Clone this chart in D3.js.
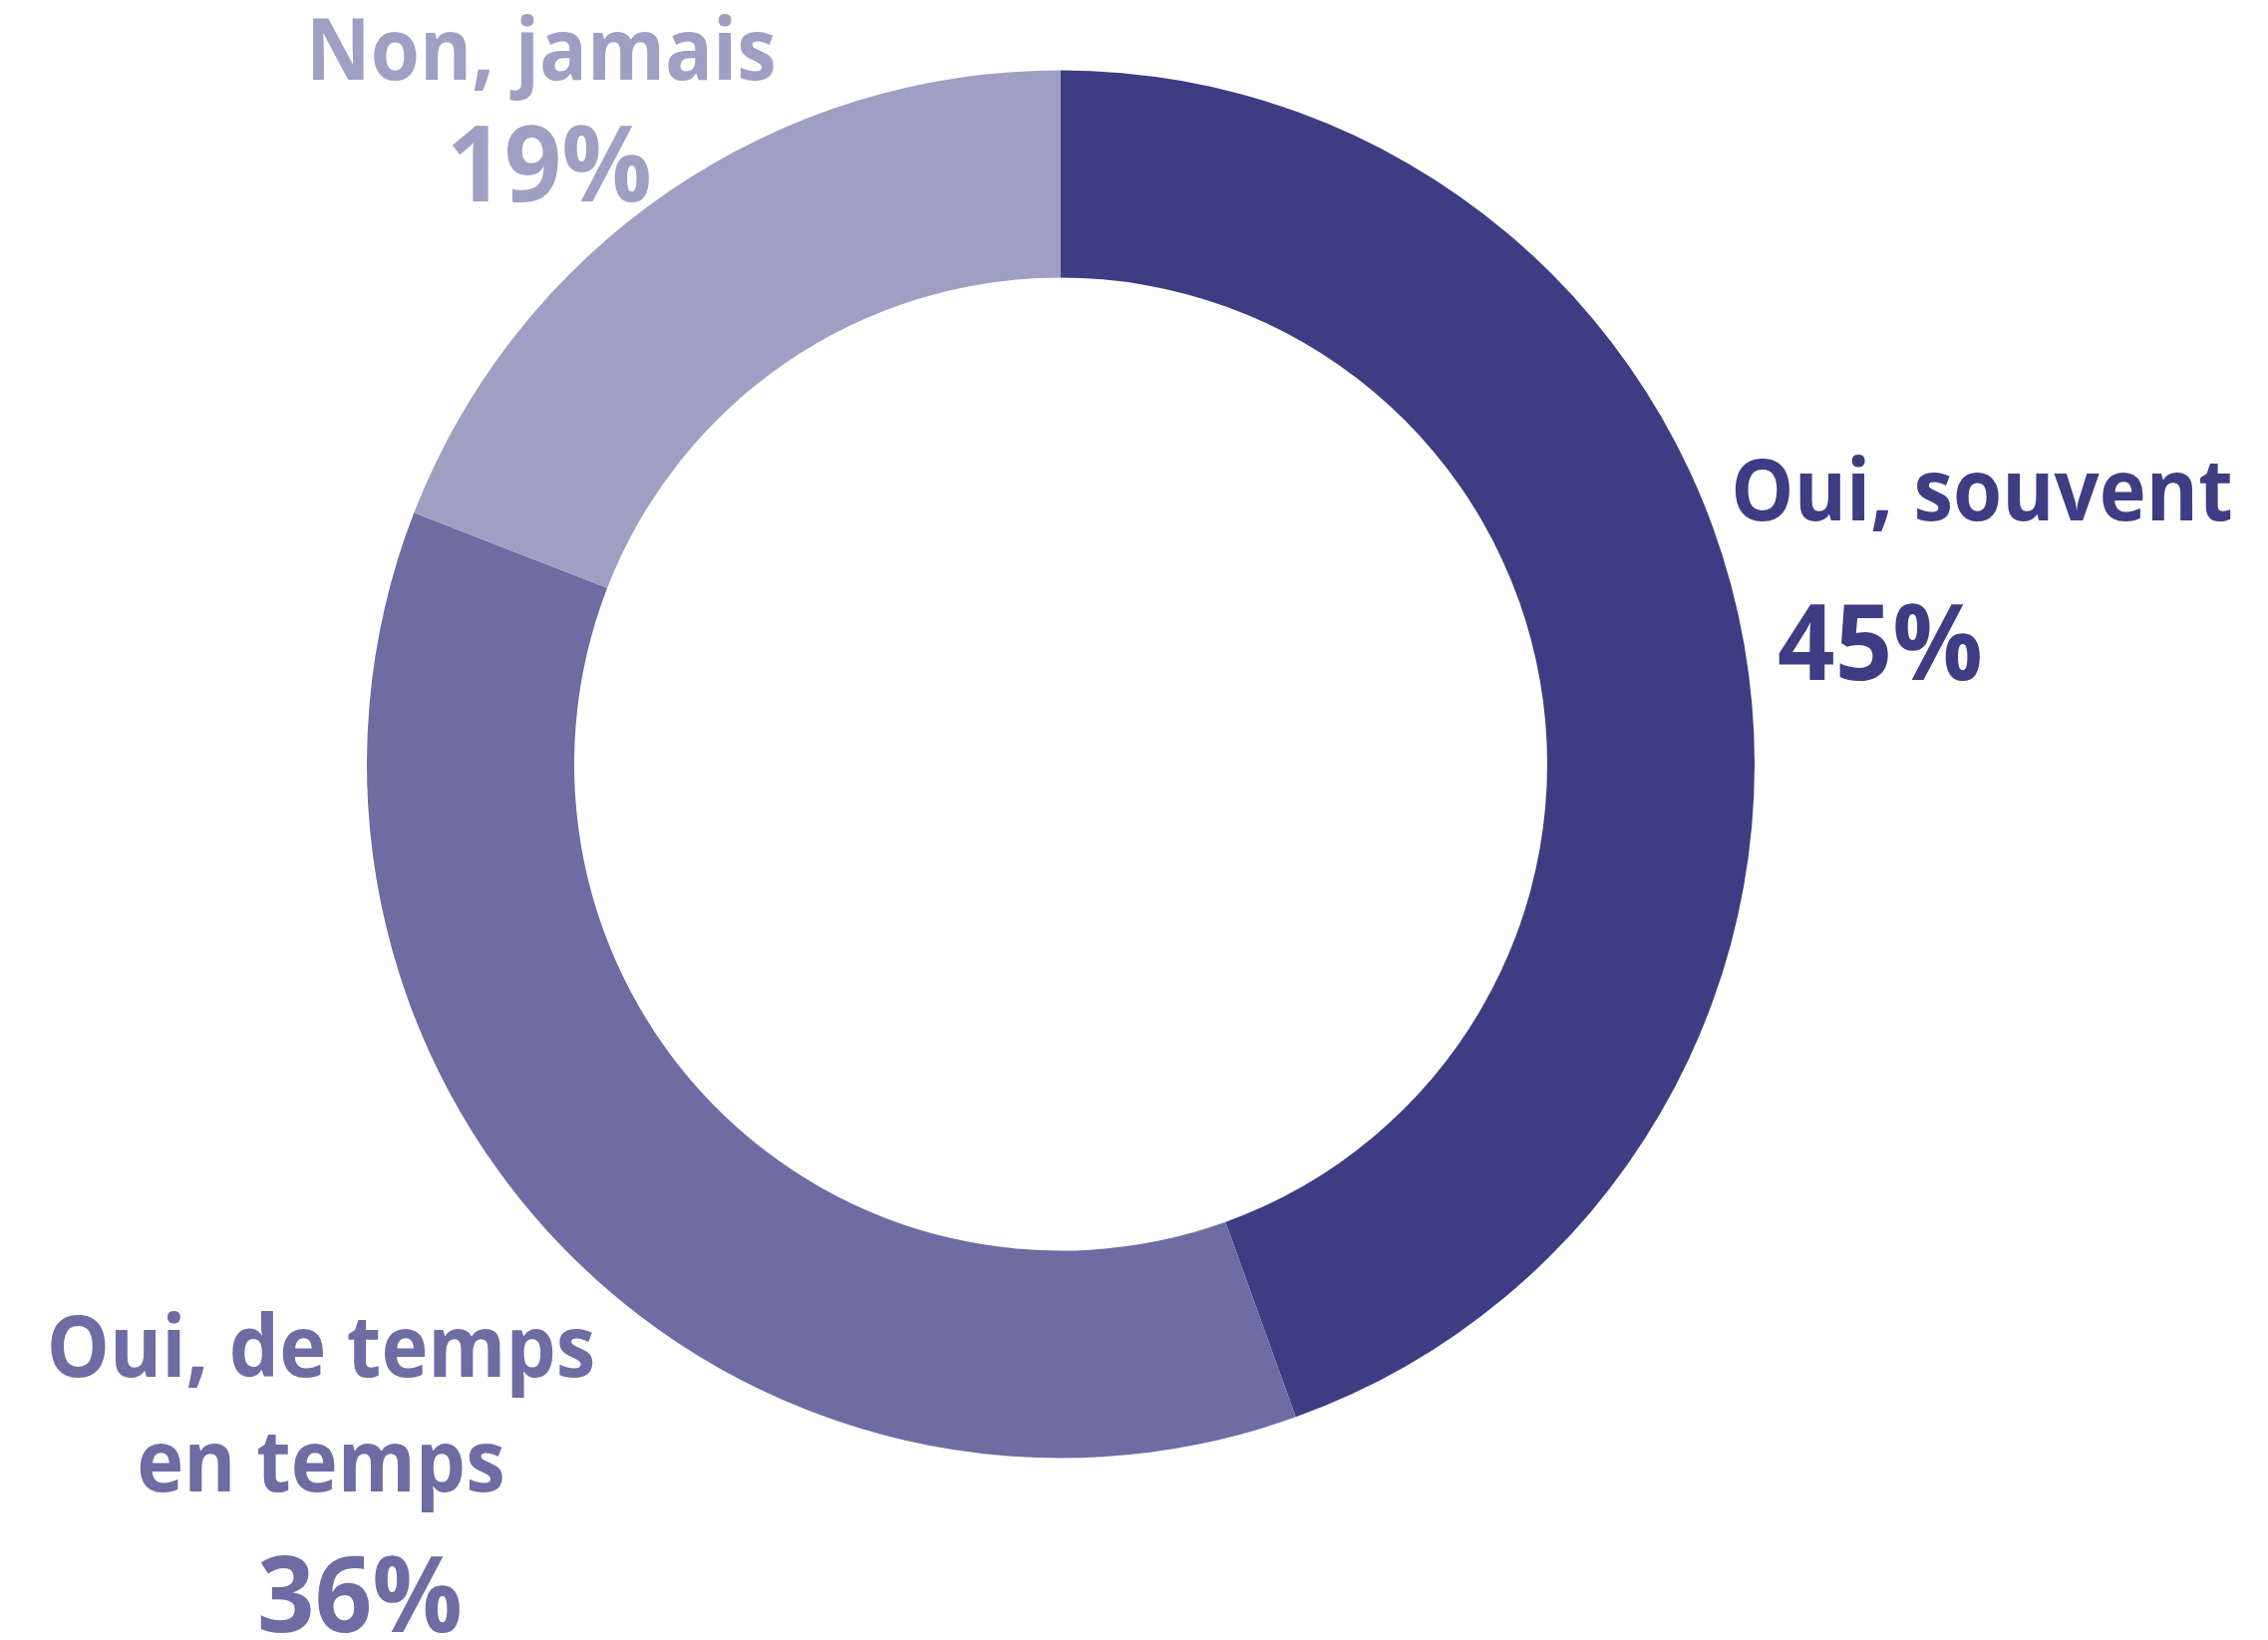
<!DOCTYPE html>
<html>
<head>
<meta charset="utf-8">
<script src="https://cdn.jsdelivr.net/npm/d3@7"></script>
<style>
  html, body { margin: 0; padding: 0; background: #ffffff; }
  svg { display: block; }
  text { font-family: "Open Sans", "Noto Sans", sans-serif; font-weight: 700; font-variant-numeric: lining-nums; }
</style>
</head>
<body>
<svg id="chart" width="2275" height="1645"></svg>
<script>
// ---- data ----
const categories = ["Oui, souvent", "Oui, de temps en temps", "Non, jamais"];
const values = [44.5, 36.4, 19.1];
const percentLabels = ["45%", "36%", "19%"];
const colors = ["#3d3d83", "#6d6ca3", "#9f9fc3"];

// ---- layout ----
const W = 2275, H = 1645;
const cx = 1064, cy = 766.5;
const outerR = 696, innerR = 488;
const nameSize = 86, pctSize = 106, nameSqueeze = 0.925, pctSqueeze = 0.95;
// label placement: x center, baseline of each name line, percent x center and baseline
const labelLayout = [
  { x: 1988, lines: ["Oui, souvent"], lineY: [522], px: 1886, py: 682 },
  { x: 322, lines: ["Oui, de temps", "en temps"], lineY: [1381, 1496], px: 361, py: 1637 },
  { x: 543, lines: ["Non, jamais"], lineY: [80], px: 551, py: 202 }
];

const svg = d3.select("#chart");
const data = categories.map((c, i) => ({ name: c, value: values[i], pct: percentLabels[i], color: colors[i] }));

const pie = d3.pie().value(d => d.value).sort(null).startAngle(0).endAngle(2 * Math.PI);
const arc = d3.arc().innerRadius(innerR).outerRadius(outerR);

const g = svg.append("g").attr("transform", `translate(${cx},${cy})`);
g.selectAll("path")
  .data(pie(data))
  .join("path")
  .attr("d", arc)
  .attr("fill", d => d.data.color);

const labels = svg.append("g");
data.forEach((d, i) => {
  const L = labelLayout[i];
  L.lines.forEach((line, j) => {
    labels.append("text")
      .attr("transform", `translate(${L.x},${L.lineY[j]}) scale(${nameSqueeze},1)`)
      .attr("text-anchor", "middle")
      .attr("font-size", nameSize)
      .attr("fill", d.color)
      .text(line);
  });
  labels.append("text")
    .attr("transform", `translate(${L.px},${L.py}) scale(${pctSqueeze},1)`)
    .attr("text-anchor", "middle")
    .attr("font-size", pctSize)
    .attr("fill", d.color)
    .text(d.pct);
});
</script>
</body>
</html>
